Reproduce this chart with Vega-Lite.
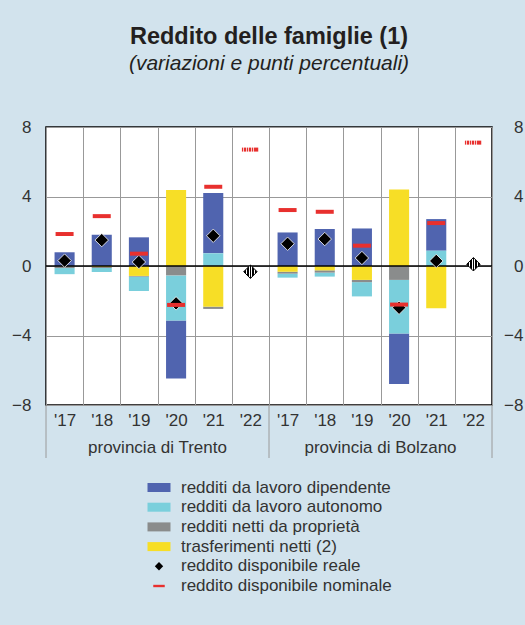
{
  "$schema": "https://vega.github.io/schema/vega-lite/v6.json",
  "autosize": {"type": "none"},
  "width": 446,
  "height": 278,
  "padding": {"left": 46, "top": 127, "right": 33, "bottom": 220},
  "background": "#d2e3ed",
  "config": {
    "font": "Liberation Sans",
    "view": {"stroke": "#000000", "strokeWidth": 1.5, "fill": "#ffffff"}
  },
  "title": {
    "text": "Reddito delle famiglie (1)",
    "subtitle": "(variazioni e punti percentuali)",
    "fontSize": 23.5,
    "fontWeight": "bold",
    "color": "#231f20",
    "subtitleFontSize": 21,
    "subtitleFontStyle": "italic",
    "subtitleColor": "#231f20",
    "subtitlePadding": 5,
    "offset": 44,
    "anchor": "middle",
    "frame": "group"
  },
  "datasets": {
    "main": [
      {"cat": "T'17", "redditi da lavoro dipendente": 0.79, "redditi da lavoro autonomo": -0.35, "redditi netti da proprietà": -0.12, "trasferimenti netti (2)": 0, "reddito disponibile reale": 0.31, "reddito disponibile nominale": 1.84},
      {"cat": "T'18", "redditi da lavoro dipendente": 1.8, "redditi da lavoro autonomo": -0.22, "redditi netti da proprietà": -0.06, "trasferimenti netti (2)": -0.06, "reddito disponibile reale": 1.49, "reddito disponibile nominale": 2.87},
      {"cat": "T'19", "redditi da lavoro dipendente": 1.65, "redditi da lavoro autonomo": -0.83, "redditi netti da proprietà": -0.04, "trasferimenti netti (2)": -0.57, "reddito disponibile reale": 0.23, "reddito disponibile nominale": 0.71},
      {"cat": "T'20", "redditi da lavoro dipendente": -3.35, "redditi da lavoro autonomo": -2.59, "redditi netti da proprietà": -0.54, "trasferimenti netti (2)": 4.37, "reddito disponibile reale": -2.15, "reddito disponibile nominale": -2.24},
      {"cat": "T'21", "redditi da lavoro dipendente": 3.47, "redditi da lavoro autonomo": 0.73, "redditi netti da proprietà": -0.13, "trasferimenti netti (2)": -2.34, "reddito disponibile reale": 1.74, "reddito disponibile nominale": 4.56},
      {"cat": "B'17", "redditi da lavoro dipendente": 1.93, "redditi da lavoro autonomo": -0.23, "redditi netti da proprietà": -0.11, "trasferimenti netti (2)": -0.33, "reddito disponibile reale": 1.28, "reddito disponibile nominale": 3.22},
      {"cat": "B'18", "redditi da lavoro dipendente": 2.13, "redditi da lavoro autonomo": -0.23, "redditi netti da proprietà": -0.13, "trasferimenti netti (2)": -0.25, "reddito disponibile reale": 1.55, "reddito disponibile nominale": 3.12},
      {"cat": "B'19", "redditi da lavoro dipendente": 2.16, "redditi da lavoro autonomo": -0.82, "redditi netti da proprietà": -0.13, "trasferimenti netti (2)": -0.8, "reddito disponibile reale": 0.46, "reddito disponibile nominale": 1.17},
      {"cat": "B'20", "redditi da lavoro dipendente": -2.91, "redditi da lavoro autonomo": -3.08, "redditi netti da proprietà": -0.8, "trasferimenti netti (2)": 4.41, "reddito disponibile reale": -2.4, "reddito disponibile nominale": -2.22},
      {"cat": "B'21", "redditi da lavoro dipendente": 1.82, "redditi da lavoro autonomo": 0.88, "redditi netti da proprietà": 0, "trasferimenti netti (2)": -2.43, "reddito disponibile reale": 0.29, "reddito disponibile nominale": 2.47}
    ],
    "prev": [
      {"cat": "T'22", "reale": -0.33, "nominale": 6.7},
      {"cat": "B'22", "reale": 0.1, "nominale": 7.1}
    ],
    "seps": [{"cat": "T'17"}, {"cat": "B'17"}],
    "sepEnd": [{"cat": "B'22"}],
    "groups": [
      {"cat": "T'20", "label": "provincia di Trento"},
      {"cat": "B'20", "label": "provincia di Bolzano"}
    ]
  },
  "resolve": {"axis": {"y": "independent"}},
  "layer": [
    {
      "data": {"name": "main"},
      "transform": [
        {"fold": ["redditi da lavoro dipendente", "redditi da lavoro autonomo", "redditi netti da proprietà", "trasferimenti netti (2)"], "as": ["series", "value"]},
        {"filter": "datum.value != 0"},
        {"calculate": "indexof(['trasferimenti netti (2)','redditi netti da proprietà','redditi da lavoro autonomo','redditi da lavoro dipendente'], datum.series)", "as": "ord"}
      ],
      "mark": {"type": "bar", "width": {"band": 0.54}},
      "encoding": {
        "x": {
          "field": "cat", "type": "nominal",
          "scale": {"domain": ["T'17", "T'18", "T'19", "T'20", "T'21", "T'22", "B'17", "B'18", "B'19", "B'20", "B'21", "B'22"], "paddingInner": 0, "paddingOuter": 0},
          "axis": {"title": null, "labelExpr": "isValid(datum.value) ? substring(datum.value, 1) : ''", "labelAngle": 0, "labelFontSize": 17, "labelColor": "#333333", "labelPadding": 7, "ticks": false, "domain": false, "grid": true, "gridColor": "#999999", "gridWidth": 1, "tickBand": "extent"}
        },
        "y": {
          "field": "value", "type": "quantitative", "stack": "zero",
          "scale": {"domain": [-8, 8], "nice": false, "zero": false},
          "axis": {"orient": "left", "title": null, "values": [-8, -4, 0, 4, 8], "labelFontSize": 17, "labelColor": "#333333", "labelPadding": 15, "ticks": false, "domain": false, "grid": true, "gridColor": "#999999", "gridWidth": 1, "labelFlush": false, "labelOverlap": false}
        },
        "color": {
          "field": "series", "type": "nominal",
          "scale": {
            "domain": ["redditi da lavoro dipendente", "redditi da lavoro autonomo", "redditi netti da proprietà", "trasferimenti netti (2)", "reddito disponibile reale", "reddito disponibile nominale"],
            "range": ["#5064af", "#7acfdc", "#8a8c8c", "#f7de26", "#000000", "#e8302e"]
          },
          "legend": {
            "title": null, "orient": "none", "legendX": 104.5, "legendY": 352, "direction": "vertical",
            "labelFontSize": 17, "labelColor": "#333333", "labelOffset": 13.5, "labelLimit": 400, "symbolSize": 196, "rowPadding": 1.7, "padding": 0,
            "encode": {
              "symbols": {
                "update": {
                  "shape": {"signal": "datum.value == 'reddito disponibile reale' ? 'M0,-0.6L0.6,0L0,0.6L-0.6,0Z' : datum.value == 'reddito disponibile nominale' ? 'M-0.82,-0.17H0.82V0.17H-0.82Z' : 'M-1.643,-0.643H1.643V0.643H-1.643Z'"},
                  "fill": {"scale": "color", "field": "value"},
                  "stroke": {"value": "transparent"},
                  "opacity": {"value": 1},
                  "size": {"value": 196}
                }
              }
            }
          }
        },
        "order": {"field": "ord", "type": "quantitative"}
      }
    },
    {
      "data": {"values": [{}]},
      "mark": {"type": "rule", "color": "#000000", "strokeWidth": 1.5},
      "encoding": {
        "y": {
          "datum": 0, "type": "quantitative",
          "axis": {"orient": "right", "title": null, "values": [-8, -4, 0, 4, 8], "labelFontSize": 17, "labelColor": "#333333", "labelAlign": "right", "labelPadding": 31, "ticks": false, "domain": false, "grid": false, "labelFlush": false, "labelOverlap": false}
        }
      }
    },
    {
      "data": {"name": "main"},
      "transform": [{"fold": ["reddito disponibile reale"], "as": ["series", "value"]}],
      "mark": {"type": "point", "shape": "diamond", "filled": true, "size": 180, "opacity": 1, "stroke": "#ffffff", "strokeWidth": 0.8},
      "encoding": {
        "x": {"field": "cat", "type": "nominal"},
        "y": {"field": "value", "type": "quantitative", "axis": null},
        "color": {"field": "series", "type": "nominal"}
      }
    },
    {
      "data": {"name": "main"},
      "transform": [{"fold": ["reddito disponibile nominale"], "as": ["series", "value"]}],
      "mark": {"type": "tick", "thickness": 4, "size": 18, "opacity": 1},
      "encoding": {
        "x": {"field": "cat", "type": "nominal"},
        "y": {"field": "value", "type": "quantitative", "axis": null},
        "color": {"field": "series", "type": "nominal"}
      }
    },
    {
      "data": {"name": "prev"},
      "mark": {
        "type": "point", "shape": "diamond", "filled": true, "size": 180, "opacity": 1, "stroke": "#000000", "strokeWidth": 1,
        "fill": {"gradient": "linear", "x1": 0, "x2": 1, "y1": 0, "y2": 0, "stops": [
          {"offset": 0, "color": "#000000"}, {"offset": 0.14, "color": "#000000"},
          {"offset": 0.14, "color": "#ffffff"}, {"offset": 0.22, "color": "#ffffff"},
          {"offset": 0.22, "color": "#000000"}, {"offset": 0.36, "color": "#000000"},
          {"offset": 0.36, "color": "#ffffff"}, {"offset": 0.44, "color": "#ffffff"},
          {"offset": 0.44, "color": "#000000"}, {"offset": 0.56, "color": "#000000"},
          {"offset": 0.56, "color": "#ffffff"}, {"offset": 0.64, "color": "#ffffff"},
          {"offset": 0.64, "color": "#000000"}, {"offset": 0.78, "color": "#000000"},
          {"offset": 0.78, "color": "#ffffff"}, {"offset": 0.86, "color": "#ffffff"},
          {"offset": 0.86, "color": "#000000"}, {"offset": 1, "color": "#000000"}
        ]}
      },
      "encoding": {
        "x": {"field": "cat", "type": "nominal"},
        "y": {"field": "reale", "type": "quantitative", "axis": null}
      }
    },
    {
      "data": {"name": "prev"},
      "mark": {
        "type": "tick", "thickness": 4, "size": 17, "opacity": 1,
        "fill": {"gradient": "linear", "x1": 0, "x2": 1, "y1": 0, "y2": 0, "stops": [
          {"offset": 0, "color": "#e8302e"}, {"offset": 0.086, "color": "#e8302e"},
          {"offset": 0.086, "color": "#f7c9c9"}, {"offset": 0.143, "color": "#f7c9c9"},
          {"offset": 0.143, "color": "#e8302e"}, {"offset": 0.229, "color": "#e8302e"},
          {"offset": 0.229, "color": "#f7c9c9"}, {"offset": 0.286, "color": "#f7c9c9"},
          {"offset": 0.286, "color": "#e8302e"}, {"offset": 0.371, "color": "#e8302e"},
          {"offset": 0.371, "color": "#f7c9c9"}, {"offset": 0.429, "color": "#f7c9c9"},
          {"offset": 0.429, "color": "#e8302e"}, {"offset": 0.514, "color": "#e8302e"},
          {"offset": 0.514, "color": "#f7c9c9"}, {"offset": 0.571, "color": "#f7c9c9"},
          {"offset": 0.571, "color": "#e8302e"}, {"offset": 0.657, "color": "#e8302e"},
          {"offset": 0.657, "color": "#f7c9c9"}, {"offset": 0.714, "color": "#f7c9c9"},
          {"offset": 0.714, "color": "#e8302e"}, {"offset": 0.8, "color": "#e8302e"},
          {"offset": 0.8, "color": "#f7c9c9"}, {"offset": 0.857, "color": "#f7c9c9"},
          {"offset": 0.857, "color": "#e8302e"}, {"offset": 0.943, "color": "#e8302e"},
          {"offset": 0.943, "color": "#f7c9c9"}, {"offset": 1, "color": "#f7c9c9"}
        ]}
      },
      "encoding": {
        "x": {"field": "cat", "type": "nominal"},
        "y": {"field": "nominale", "type": "quantitative", "axis": null}
      }
    },
    {
      "data": {"name": "seps"},
      "mark": {"type": "rule", "color": "#9a9a9a", "strokeWidth": 1},
      "encoding": {
        "x": {"field": "cat", "type": "nominal", "bandPosition": 0},
        "y": {"datum": -8, "type": "quantitative", "axis": null},
        "y2": {"datum": -11.05}
      }
    },
    {
      "data": {"name": "sepEnd"},
      "mark": {"type": "rule", "color": "#9a9a9a", "strokeWidth": 1},
      "encoding": {
        "x": {"field": "cat", "type": "nominal", "bandPosition": 1},
        "y": {"datum": -8, "type": "quantitative", "axis": null},
        "y2": {"datum": -11.05}
      }
    },
    {
      "data": {"name": "groups"},
      "mark": {"type": "text", "fontSize": 17, "color": "#333333", "align": "center", "baseline": "middle"},
      "encoding": {
        "x": {"field": "cat", "type": "nominal", "bandPosition": 0},
        "y": {"datum": -10.47, "type": "quantitative", "axis": null},
        "text": {"field": "label"}
      }
    }
  ]
}
